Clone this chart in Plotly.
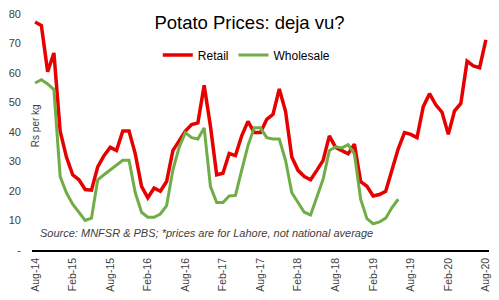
import plotly.graph_objects as go

months = []
mnames = ["Jan","Feb","Mar","Apr","May","Jun","Jul","Aug","Sep","Oct","Nov","Dec"]
for i in range(73):
    mi = (7 + i) % 12
    yr = 14 + (7 + i) // 12
    months.append(f"{mnames[mi]}-{yr:02d}")

retail = [77.3, 76.1, 60.4, 66.8, 40.3, 31.5, 25.5, 23.8, 20.5, 20.3,
          28.2, 32.0, 34.8, 33.7, 40.3, 40.3, 32.6, 21.6, 17.7, 21.0,
          19.9, 23.2, 33.7, 37.0, 40.3, 42.5, 43.1, 55.8, 42.0, 25.5,
          26.0, 32.7, 32.0, 38.7, 43.6, 39.8, 39.8, 44.3, 46.0, 54.6,
          47.0, 31.5, 27.0, 24.9, 23.8, 27.0, 30.4, 38.7, 34.8, 33.7,
          32.6, 35.9, 23.2, 21.6, 18.3, 18.8, 19.9, 27.1, 34.3, 39.8,
          39.2, 38.1, 48.6, 53.0, 49.2, 46.7, 39.2, 47.2, 49.7, 64.0,
          62.4, 61.8, 71.2]

wholesale = [56.6, 57.7, 56.3, 54.4, 24.9, 19.4, 15.5, 12.8, 10.0, 10.8,
             23.8, 25.5, 27.1, 28.8, 30.4, 30.4, 19.4, 12.8, 11.1, 11.1,
             12.2, 15.0, 27.1, 34.8, 39.8, 38.1, 37.6, 41.4, 21.6, 16.1,
             16.1, 18.3, 18.5, 27.1, 35.4, 41.4, 41.4, 38.1, 37.6, 37.6,
             30.4, 19.4, 16.1, 12.8, 11.9, 18.0, 24.0, 33.7, 35.0, 34.6,
             35.7, 32.6, 17.2, 10.6, 8.9, 9.5, 10.8, 14.4, 17.2]

xtick_labels = months[::6]
ytick_vals = [0, 10, 20, 30, 40, 50, 60, 70, 80]
ytick_text = ["-", "10", "20", "30", "40", "50", "60", "70", "80"]

fig = go.Figure()
fig.add_trace(go.Scatter(x=months, y=retail, mode="lines", name="Retail",
                         line=dict(color="#E60000", width=3.5)))
fig.add_trace(go.Scatter(x=months[:len(wholesale)], y=wholesale, mode="lines", name="Wholesale",
                         line=dict(color="#70AD47", width=3)))

fig.update_layout(
    width=499, height=300,
    margin=dict(l=32, r=8, t=10, b=48),
    paper_bgcolor="white", plot_bgcolor="white",
    font=dict(family="Liberation Sans, Arial, sans-serif", color="#404040"),
    title=dict(text="Potato Prices: deja vu?", x=0.5, xanchor="center",
               y=1 - 23 / 300, yanchor="middle",
               font=dict(size=18.5, color="#000000")),
    legend=dict(orientation="h", x=0.47, xanchor="center", y=0.826, yanchor="middle",
                font=dict(size=12, color="#000000"), itemwidth=30,
                bgcolor="rgba(0,0,0,0)"),
    showlegend=True,
)
fig.update_xaxes(type="category", categoryorder="array", categoryarray=months,
                 range=[-0.5, 72.5], tickmode="array", tickvals=xtick_labels,
                 ticktext=xtick_labels, tickangle=-90,
                 tickfont=dict(size=10.5, color="#404040"),
                 showgrid=False, showline=True, linecolor="#000000", linewidth=1.5,
                 ticks="", zeroline=False, ticklabelstandoff=2)
fig.update_yaxes(range=[0, 80], tickmode="array", tickvals=ytick_vals, ticktext=ytick_text,
                 tickfont=dict(size=11, color="#404040"), showgrid=False,
                 showline=False, zeroline=False, ticks="", ticklabelstandoff=10)

fig.add_annotation(text="Rs per kg", xref="paper", yref="paper",
                   x=(35 - 32) / 459, y=(252 - 124) / 242, textangle=-90,
                   showarrow=False, xanchor="center", yanchor="middle",
                   font=dict(size=10, color="#404040"))
fig.add_annotation(text="<i>Source: MNFSR & PBS; *prices are for Lahore, not national average</i>",
                   xref="paper", yref="paper", x=(38 - 32) / 459, y=(252 - 235) / 242,
                   showarrow=False, xanchor="left", yanchor="middle",
                   font=dict(size=11, color="#404040"))

fig.write_html("out.html")
